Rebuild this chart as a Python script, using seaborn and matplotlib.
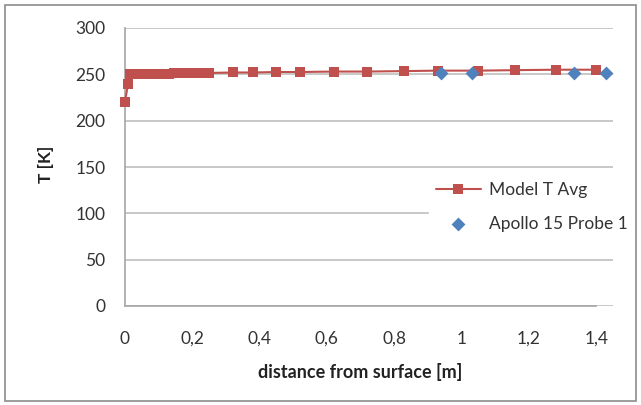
import numpy as np
import pandas as pd
import matplotlib
matplotlib.use("Agg")
import matplotlib.pyplot as plt
import matplotlib.patches as mpatches
import seaborn as sns

# data
model_depth = [0.0, 0.009, 0.015, 0.025, 0.035, 0.045, 0.055, 0.07, 0.085, 0.10,
               0.115, 0.13, 0.145, 0.16, 0.175, 0.19, 0.205, 0.22, 0.235, 0.25,
               0.32, 0.38, 0.45, 0.52, 0.62, 0.72, 0.83, 0.93, 1.05, 1.16, 1.28, 1.40]
model_temp = [220, 240, 250, 250, 250, 250, 250, 250, 250, 250,
              250.5, 250.5, 251, 251, 251, 251, 251, 251.5, 251.5, 251.5,
              252, 252, 252.5, 252.5, 253, 253, 253.5, 254, 254, 254.5, 255, 255]
apollo_depth = [0.94, 1.03, 1.335, 1.43]
apollo_temp = [251, 251, 251, 251]

x_ticks = [0, 0.2, 0.4, 0.6, 0.8, 1.0, 1.2, 1.4]
x_tick_labels = ["0", "0,2", "0,4", "0,6", "0,8", "1", "1,2", "1,4"]
y_ticks = [0, 50, 100, 150, 200, 250, 300]

RED = "#C0504D"
BLUE = "#4F81BD"
GRID = "#BFBFBF"

sns.set_style("white")
plt.rcParams["font.family"] = ["Lato", "DejaVu Sans"]

fig = plt.figure(figsize=(6.41, 4.05), dpi=100)
ax = fig.add_axes([125 / 641, 1 - 306 / 405, (613 - 125) / 641, (306 - 28) / 405])

df_model = pd.DataFrame({"depth": model_depth, "temp": model_temp})
df_apollo = pd.DataFrame({"depth": apollo_depth, "temp": apollo_temp})

sns.lineplot(data=df_model, x="depth", y="temp", ax=ax, color=RED, linewidth=1.5,
             marker="s", markersize=6.5, markeredgewidth=0, label="Model T Avg",
             zorder=3)
sns.scatterplot(data=df_apollo, x="depth", y="temp", ax=ax, color=BLUE, marker="D",
                s=50, linewidth=0, label="Apollo 15 Probe 1", zorder=4)
for art in ax.lines + ax.collections:
    art.set_clip_on(False)

ax.set_xlim(0, 1.45)
ax.set_ylim(0, 300)
ax.set_xticks(x_ticks)
ax.set_xticklabels(x_tick_labels)
ax.set_yticks(y_ticks)
ax.tick_params(axis="both", length=0, labelsize=12.5, colors="#333333")
ax.tick_params(axis="y", pad=14)
ax.tick_params(axis="x", pad=18)

ax.grid(axis="y", color=GRID, linewidth=1.2)
ax.set_axisbelow(True)
for side in ["top", "right"]:
    ax.spines[side].set_visible(False)
for side in ["left", "bottom"]:
    ax.spines[side].set_color("#A6A6A6")
    ax.spines[side].set_linewidth(1.2)
ax.spines["bottom"].set_bounds(0, 1.4)

ax.set_xlabel("distance from surface [m]", fontsize=13, fontweight="bold", color="#222222")
ax.set_ylabel("T [K]", fontsize=12.5, fontweight="bold", color="#222222")
ax.xaxis.set_label_coords(0.482, -0.205)
ax.yaxis.set_label_coords(-0.145, 0.51)

leg = ax.legend(loc="center left", bbox_to_anchor=(420 / 641, 1 - 207 / 405),
                bbox_transform=fig.transFigure, frameon=True, fontsize=12.5,
                handlelength=2.6, labelspacing=1.0, borderpad=0.4,
                handletextpad=0.5)
leg.get_frame().set_facecolor("white")
leg.get_frame().set_edgecolor("white")
leg.get_frame().set_alpha(1)
for t in leg.get_texts():
    t.set_color("#333333")

# chart area border
fig.patches.append(mpatches.Rectangle((5 / 641, 4 / 405), 631 / 641, 396 / 405,
                                      transform=fig.transFigure, fill=False,
                                      edgecolor="#8C8C8C", linewidth=1.2))

fig.savefig("out.png", dpi=100)
